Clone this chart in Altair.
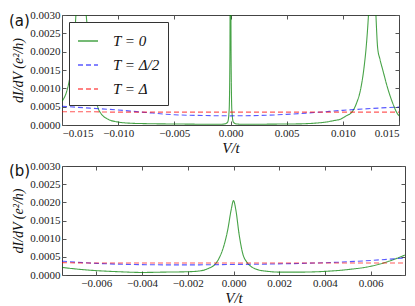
import altair as alt
import pandas as pd

names = ["T = 0", "T = Δ/2", "T = Δ"]
colors = ["rgba(0,128,0,0.72)", "rgba(0,0,255,0.65)", "rgba(255,0,0,0.65)"]
dashes = [[1, 0], [5, 3], [5, 3]]

y_ticks = [0.0, 0.0005, 0.0010, 0.0015, 0.0020, 0.0025, 0.0030]

# ---- panel (a) ----
a_x_ticks = [-0.015, -0.010, -0.005, 0.0, 0.005, 0.010, 0.015]
a_green_v = [-0.015, -0.0146, -0.0143, -0.0140, -0.0138, -0.0136, -0.0134, -0.0132,
             -0.0129, -0.0126, -0.0122, -0.0120, -0.0118, -0.0115, -0.0111, -0.0107,
             -0.0100, -0.0090, -0.0080, -0.0060, -0.0040, -0.0020, -0.0010, -0.0005,
             -0.00025, -0.00012, -0.00005, 0.0, 0.00005, 0.00012, 0.00025, 0.0005,
             0.0010, 0.0020, 0.0040, 0.0060, 0.0075, 0.0085, 0.0092, 0.0098, 0.0103,
             0.0108, 0.0112, 0.0116, 0.0119, 0.0121, 0.0123, 0.0125, 0.0127, 0.0129,
             0.0131, 0.0133, 0.0136, 0.0139, 0.0142, 0.0145, 0.0148, 0.0150]
a_green_g = [0.00065, 0.0009, 0.0013, 0.0020, 0.0028, 0.0040, 0.0050, 0.0045,
             0.0032, 0.0022, 0.00106, 0.00070, 0.00047, 0.00030, 0.00019, 0.00013,
             0.00008, 0.00005, 0.00004, 0.00003, 0.000025, 0.00002, 0.00002, 0.00003,
             0.00008, 0.0004, 0.0020, 0.0080, 0.0020, 0.0004, 0.00008, 0.00003,
             0.00002, 0.00002, 0.000025, 0.00003, 0.00005, 0.00008, 0.00012, 0.00016, 0.00025,
             0.00035, 0.00058, 0.00100, 0.0016, 0.0022, 0.0031, 0.0045, 0.0045, 0.0033,
             0.0021, 0.0018, 0.00145, 0.0011, 0.00080, 0.00055, 0.00034, 0.00025]
a_blue_v = [-0.015, -0.0125, -0.010, -0.0075, -0.005, -0.0025, 0.0, 0.0025, 0.005, 0.0075, 0.010, 0.0125, 0.015]
a_blue_g = [0.00051, 0.00046, 0.00041, 0.00034, 0.00028, 0.00026, 0.00025, 0.00026, 0.00029, 0.00034, 0.00040, 0.00045, 0.00049]
a_red_v = [-0.015, -0.0125, -0.010, -0.0075, -0.005, -0.0025, 0.0, 0.0025, 0.005, 0.0075, 0.010, 0.0125, 0.015]
a_red_g = [0.00036, 0.00036, 0.00035, 0.00035, 0.00035, 0.00035, 0.00035, 0.00035, 0.00035, 0.00035, 0.00035, 0.00035, 0.00035]

# ---- panel (b) ----
b_x_ticks = [-0.006, -0.004, -0.002, 0.0, 0.002, 0.004, 0.006]
b_green_v = [-0.0075, -0.0068, -0.006, -0.005, -0.004, -0.003, -0.002, -0.0015, -0.0011,
             -0.0008, -0.0006, -0.0004, -0.00025, -0.0001, 0.0, 0.0001, 0.00025, 0.0004,
             0.0006, 0.0008, 0.0011, 0.0015, 0.002, 0.003, 0.004, 0.005, 0.006, 0.0068, 0.0075]
b_green_g = [0.00021, 0.00016, 0.00012, 0.00009, 0.00007, 0.00008, 0.00009, 0.00011, 0.00018,
             0.00030, 0.00050, 0.00085, 0.00125, 0.00180, 0.00205, 0.00180, 0.00110, 0.00060,
             0.00034, 0.00022, 0.00014, 0.00010, 0.00008, 0.00008, 0.00010, 0.00015, 0.00024, 0.00038, 0.00055]
b_blue_v = [-0.0075, -0.006, -0.0045, -0.003, -0.0015, 0.0, 0.0015, 0.003, 0.0045, 0.006, 0.0075]
b_blue_g = [0.00038, 0.00032, 0.00029, 0.00028, 0.00028, 0.00029, 0.00030, 0.00032, 0.00035, 0.00040, 0.00047]
b_red_v = [-0.0075, -0.006, -0.0045, -0.003, -0.0015, 0.0, 0.0015, 0.003, 0.0045, 0.006, 0.0075]
b_red_g = [0.00034, 0.00033, 0.00033, 0.00033, 0.00033, 0.00033, 0.00033, 0.00033, 0.00033, 0.00033, 0.00033]


def make_frame(parts):
    rows = []
    for name, vs, gs in parts:
        for v, g in zip(vs, gs):
            rows.append({"V": v, "G": g, "series": name})
    return pd.DataFrame(rows)


SERIF = "Liberation Serif, Times New Roman, DejaVu Serif, serif"


def panel(df, xdom, xticks, w, h, label, label_y):
    legend = alt.Legend(title=None, orient="none", legendX=7, legendY=7,
                        fillColor="white", strokeColor="#333", padding=8,
                        rowPadding=5, labelFont=SERIF, labelFontStyle="italic",
                        labelFontSize=15, labelColor="#111", symbolSize=400,
                        symbolStrokeWidth=1.3, labelOffset=14, symbolType="stroke",
                        zindex=1)
    xs = alt.Scale(domain=xdom, nice=False, zero=False)
    ys = alt.Scale(domain=[0, 0.003], nice=False)
    x_b = alt.X("V:Q", scale=xs,
                axis=alt.Axis(orient="bottom", values=xticks, format=".3f", offset=-4,
                              tickSize=4, domain=False, grid=False, labelPadding=2,
                              title="V/t", titleFont=SERIF, titleFontStyle="italic",
                              titleFontSize=15, titleFontWeight="normal", titlePadding=2))
    y_l = alt.Y("G:Q", scale=ys,
                axis=alt.Axis(orient="left", values=y_ticks, format=".4f", offset=-4,
                              tickSize=4, domain=False, grid=False, labelPadding=2,
                              title="dI/dV (e²/h)", titleFont=SERIF, titleFontStyle="italic",
                              titleFontSize=14, titleFontWeight="normal", titlePadding=4))
    lines = alt.Chart(df).mark_line(clip=True, strokeWidth=1.1, interpolate="monotone").encode(
        x=x_b, y=y_l,
        color=alt.Color("series:N", scale=alt.Scale(domain=names, range=colors), legend=legend),
        strokeDash=alt.StrokeDash("series:N", scale=alt.Scale(domain=names, range=dashes), legend=legend),
    )
    ticks = alt.Chart(df).mark_line(clip=True, opacity=0).encode(
        x=alt.X("V:Q", axis=alt.Axis(orient="top", values=xticks, labels=False, offset=-4,
                                     tickSize=4, domain=False, grid=False, title=None)),
        y=alt.Y("G:Q", axis=alt.Axis(orient="right", values=y_ticks, labels=False, offset=-4,
                                     tickSize=4, domain=False, grid=False, title=None)),
        detail="series:N",
    )
    lab = alt.Chart(pd.DataFrame({"t": [label]})).mark_text(
        font="DejaVu Sans", fontSize=15, align="left", baseline="top", color="#111"
    ).encode(text="t:N", x=alt.value(-53), y=alt.value(label_y))
    return alt.layer(lines, ticks, lab).resolve_axis(x="independent", y="independent").properties(width=w, height=h)


df_a = make_frame([(names[0], a_green_v, a_green_g), (names[1], a_blue_v, a_blue_g), (names[2], a_red_v, a_red_g)])
df_b = make_frame([(names[0], b_green_v, b_green_g), (names[1], b_blue_v, b_blue_g), (names[2], b_red_v, b_red_g)])

top = panel(df_a, [-0.015, 0.015], a_x_ticks, 337, 110, "(a)", -1)
bottom = panel(df_b, [-0.0075, 0.0075], b_x_ticks, 343, 109, "(b)", -2)

chart = alt.vconcat(top, bottom, spacing=3).properties(padding=0).configure_view(
    stroke="#444", strokeWidth=1
).configure_axis(
    labelFont=SERIF, labelFontSize=11, labelColor="#222", tickColor="#555", titleColor="#111"
)

chart.save("out.html", embed_options={"renderer": "svg", "actions": False})
